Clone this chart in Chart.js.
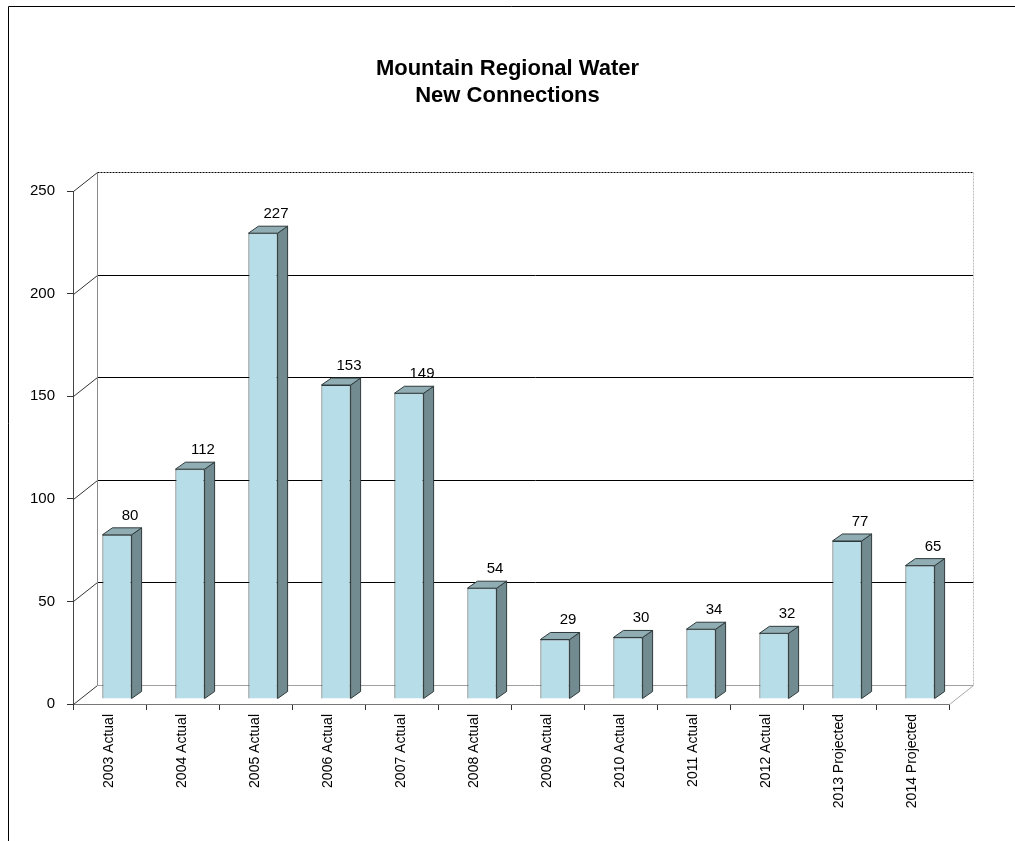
<!DOCTYPE html>
<html>
<head>
<meta charset="utf-8">
<title>Mountain Regional Water - New Connections</title>
<script src="https://cdn.jsdelivr.net/npm/chart.js@4"></script>
<style>
  html, body { margin: 0; padding: 0; background: #fff; overflow: hidden; }
  #wrap { position: relative; width: 1015px; height: 841px; }
</style>
</head>
<body>
<div id="wrap"><canvas id="connectionsChart"></canvas></div>
<script>
  // -- data --
  var categories = ['2003 Actual', '2004 Actual', '2005 Actual', '2006 Actual', '2007 Actual',
    '2008 Actual', '2009 Actual', '2010 Actual', '2011 Actual', '2012 Actual',
    '2013 Projected', '2014 Projected'];
  var connections = [80, 112, 227, 153, 149, 54, 29, 30, 34, 32, 77, 65];
  var yTicks = [0, 50, 100, 150, 200, 250];

  // -- pseudo 3D look --
  var WALL = { x: 24, y: -19 };      // back wall offset from the front plane
  var BAR_FRONT = { x: 7.5, y: -5 }; // bar front face offset
  var BAR_DEPTH = { x: 10, y: -7 };  // bar side / top depth

  var FRONT = '#B7DEE8';
  var SIDE = '#728B90';
  var TOP = '#8FADB2';
  var EDGE = '#2F3A3C';

  Chart.defaults.font.family = "'Liberation Sans', Arial, sans-serif";
  Chart.defaults.color = '#000';

  function line(ctx, x1, y1, x2, y2, color, dash) {
    ctx.save();
    ctx.strokeStyle = color;
    ctx.lineWidth = 1;
    ctx.setLineDash(dash || []);
    ctx.beginPath();
    ctx.moveTo(x1, y1);
    ctx.lineTo(x2, y2);
    ctx.stroke();
    ctx.restore();
  }

  function poly(ctx, pts, fill) {
    ctx.beginPath();
    ctx.moveTo(pts[0][0], pts[0][1]);
    for (var i = 1; i < pts.length; i++) ctx.lineTo(pts[i][0], pts[i][1]);
    ctx.closePath();
    ctx.fillStyle = fill;
    ctx.fill();
    ctx.strokeStyle = EDGE;
    ctx.lineWidth = 1;
    ctx.stroke();
  }

  var threeD = {
    id: 'threeD',
    beforeDraw: function (chart) {
      var ctx = chart.ctx;
      // outer frame
      line(ctx, 8.5, 6.5, 1015, 6.5, '#000');
      line(ctx, 8.5, 6.5, 8.5, 841, '#000');
    },
    beforeDatasetsDraw: function (chart) {
      var ctx = chart.ctx;
      var a = chart.chartArea;
      var y = chart.scales.y;
      var L = Math.round(a.left) + 0.5, R = Math.round(a.right) + 0.5;

      yTicks.forEach(function (v) {
        var py = Math.round(y.getPixelForValue(v)) + 0.5;
        var by = py + WALL.y;
        // left side wall diagonal
        line(ctx, L, py, L + WALL.x, by, '#333');
        // back wall gridline
        var col = v === 0 ? '#A0A0A0' : '#000';
        var dash = v === 250 ? [2, 1] : [];
        line(ctx, L + WALL.x, by, R + WALL.x, by, col, dash);
      });
      var top = Math.round(y.getPixelForValue(250)) + 0.5 + WALL.y;
      var bot = Math.round(y.getPixelForValue(0)) + 0.5 + WALL.y;
      line(ctx, L + WALL.x, top, L + WALL.x, bot, '#8A8A8A');
      line(ctx, R + WALL.x, top, R + WALL.x, bot, '#BDBDBD', [2, 1]);
      line(ctx, R, bot - WALL.y, R + WALL.x, bot, '#A8A8A8');

      ctx.save();
      ctx.translate(BAR_FRONT.x, BAR_FRONT.y);
    },
    afterDatasetsDraw: function (chart) {
      var ctx = chart.ctx;
      ctx.restore();
      var meta = chart.getDatasetMeta(0);
      ctx.save();
      meta.data.forEach(function (bar, i) {
        var p = bar.getProps(['x', 'y', 'base', 'width'], true);
        var l = p.x - p.width / 2 + BAR_FRONT.x;
        var r = p.x + p.width / 2 + BAR_FRONT.x;
        var t = p.y + BAR_FRONT.y;
        var b = p.base + BAR_FRONT.y;
        var dx = BAR_DEPTH.x, dy = BAR_DEPTH.y;
        poly(ctx, [[r, t], [r + dx, t + dy], [r + dx, b + dy], [r, b]], SIDE);
        poly(ctx, [[l, t], [l + dx, t + dy], [r + dx, t + dy], [r, t]], TOP);

        ctx.fillStyle = '#000';
        ctx.font = "15px 'Liberation Sans', Arial, sans-serif";
        ctx.textAlign = 'center';
        ctx.textBaseline = 'alphabetic';
        ctx.fillText(String(connections[i]), (l + r) / 2 + 13, t + dy - 8);
      });
      ctx.restore();
    }
  };

  new Chart(document.getElementById('connectionsChart'), {
    type: 'bar',
    data: {
      labels: categories,
      datasets: [{
        label: 'New Connections',
        data: connections,
        backgroundColor: FRONT,
        borderColor: EDGE,
        borderWidth: 1,
        categoryPercentage: 1,
        barPercentage: 0.4
      }]
    },
    options: {
      responsive: true,
      maintainAspectRatio: false,
      animation: false,
      layout: { padding: 0 },
      plugins: {
        legend: { display: false },
        tooltip: { enabled: false },
        title: {
          display: true,
          text: ['Mountain Regional Water', 'New Connections'],
          color: '#000',
          font: { size: 22, weight: 'bold', lineHeight: 1.25 },
          padding: { top: 55, bottom: 81 }
        }
      },
      scales: {
        x: {
          grid: { display: true, drawOnChartArea: false, drawTicks: true, tickLength: 6, color: '#333' },
          border: { display: true, color: '#777', dash: [2, 1] },
          ticks: { minRotation: 90, maxRotation: 90, autoSkip: false, padding: 4, font: { size: 14 } },
          afterFit: function (s) { s.height = 137; }
        },
        y: {
          min: 0,
          max: 250,
          afterBuildTicks: function (s) {
            s.ticks = yTicks.map(function (v) { return { value: v }; });
          },
          grid: { display: true, drawOnChartArea: false, drawTicks: true, tickLength: 6, color: '#333' },
          border: { display: true, color: '#444', dash: [2, 1] },
          ticks: { padding: 12, font: { size: 15 } },
          afterFit: function (s) { s.width = 73; }
        },
        // empty right-hand axis that only reserves room for the back wall
        yRight: {
          position: 'right',
          min: 0,
          max: 250,
          grid: { display: false },
          border: { display: false },
          ticks: { display: false },
          afterFit: function (s) { s.width = 66; }
        }
      }
    },
    plugins: [threeD]
  });
</script>
</body>
</html>
